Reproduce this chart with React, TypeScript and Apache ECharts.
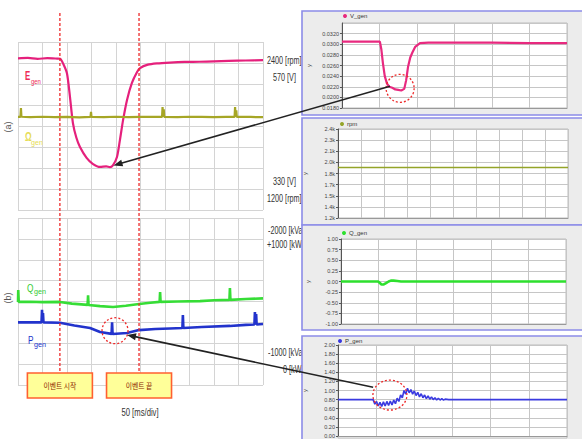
import { useEffect, useRef } from "react";
import * as echarts from "echarts";

// ---------- Left oscilloscope (x: divisions of 50 ms, y: screen divisions) ----------
const eGen: number[][] = [
  [0, 7.22], [0.4, 7.24], [0.8, 7.2], [1.2, 7.23], [1.6, 7.21], [1.72, 7.2], [1.85, 6.95], [2.0, 6.5],
  [2.12, 5.4], [2.24, 4.15], [2.38, 3.45], [2.53, 3.0], [2.8, 2.48], [3.05, 2.2], [3.35, 2.05],
  [3.6, 2.08], [3.75, 2.04], [3.88, 2.14], [4.04, 2.52], [4.16, 3.33], [4.29, 4.29], [4.45, 5.24],
  [4.65, 6.05], [4.86, 6.57], [4.98, 6.76], [5.3, 6.92], [5.67, 6.98], [6.2, 7.02], [6.8, 7.05],
  [7.4, 7.06], [8.0, 7.08], [8.6, 7.1], [9.3, 7.12], [10, 7.14],
];
const omegaGen: number[][] = [
  [0, 4.43], [0.1, 4.43], [0.12, 4.86], [0.14, 4.44], [0.5, 4.42], [1.0, 4.44], [1.5, 4.42], [2.0, 4.43],
  [2.5, 4.41], [2.96, 4.43], [2.98, 4.67], [3.0, 4.43], [3.5, 4.42], [4.0, 4.44], [4.5, 4.42], [5.0, 4.43],
  [5.5, 4.44], [5.88, 4.43], [5.9, 4.9], [5.92, 4.45], [5.95, 4.8], [5.97, 4.43], [6.5, 4.42], [7.0, 4.44],
  [7.5, 4.43], [8.0, 4.42], [8.5, 4.43], [8.84, 4.43], [8.86, 4.9], [8.88, 4.44], [8.91, 4.75], [8.93, 4.43],
  [9.5, 4.43], [10, 4.42],
];
const qGenScope: number[][] = [
  [0, 3.98], [0.01, 4.55], [0.03, 3.98], [0.5, 3.99], [1.0, 3.97], [1.71, 3.98], [2.2, 3.9], [2.84, 3.84],
  [2.86, 4.3], [2.88, 3.83], [3.35, 3.78], [3.88, 3.74], [4.4, 3.8], [4.94, 3.88], [5.4, 3.94], [5.78, 3.98],
  [5.8, 4.45], [5.82, 3.98], [6.5, 4.0], [7.43, 4.02], [8.0, 4.06], [8.63, 4.08], [8.65, 4.65], [8.67, 4.08],
  [9.3, 4.12], [10, 4.15],
];
const pGenScope: number[][] = [
  [0, 3.0], [0.5, 3.0], [0.96, 3.0], [0.98, 3.6], [1.0, 3.0], [1.02, 3.45], [1.04, 3.0], [1.71, 2.98],
  [2.3, 2.85], [2.94, 2.73], [3.35, 2.54], [3.82, 2.45], [3.84, 3.0], [3.86, 2.44], [4.45, 2.49], [4.94, 2.63],
  [5.6, 2.68], [6.2, 2.71], [6.71, 2.73], [6.73, 3.35], [6.75, 2.73], [7.5, 2.78], [8.65, 2.83], [9.3, 2.88],
  [9.65, 2.9], [9.67, 3.5], [9.69, 2.9], [9.72, 3.4], [9.74, 2.9], [10, 2.92],
];
const eventStart = 1.71;
const eventEnd = 4.94;
const eventLabels = ["이벤트 시작", "이벤트 끝"];
const timeBaseLabel = "50 [ms/div]";
const sideLabelTexts = [
  "2400 [rpm]", "570 [V]", "330 [V]", "1200 [rpm]",
  "-2000 [kVar]", "+1000 [kW]", "-1000 [kVar]", "0 [kW]",
];

// ---------- Right simulation panels ----------
const vGen: number[][] = [
  [0, 0.0305], [0.5, 0.0305], [1.01, 0.0305], [1.05, 0.029], [1.09, 0.0265], [1.14, 0.024], [1.2, 0.0226],
  [1.26, 0.022], [1.34, 0.0218], [1.42, 0.0215], [1.5, 0.0214], [1.58, 0.0213], [1.66, 0.0216],
  [1.71, 0.0232], [1.76, 0.0257], [1.82, 0.0275], [1.88, 0.0285], [1.95, 0.0295], [2.08, 0.0302],
  [2.3, 0.0303], [3, 0.0303], [4, 0.0303], [5, 0.0302], [6, 0.0302],
];
const rpm: number[][] = [[0, 1880], [10, 1880]];
const qGen: number[][] = [
  [0, 0], [0.99, 0], [1.03, -0.03], [1.08, -0.07], [1.14, -0.07], [1.2, -0.04], [1.27, 0.0],
  [1.33, 0.02], [1.4, 0.02], [1.5, 0.01], [1.6, 0.0], [6, 0],
];
const pGen: number[][] = [
  [0, 0.8], [0.92, 0.8], [0.965, 0.7], [1.01, 0.76], [1.055, 0.66], [1.1, 0.74], [1.145, 0.65],
  [1.19, 0.75], [1.235, 0.66], [1.28, 0.76], [1.325, 0.67], [1.37, 0.77], [1.415, 0.68], [1.46, 0.79],
  [1.505, 0.71], [1.55, 0.83], [1.595, 0.76], [1.64, 0.9], [1.685, 0.84], [1.73, 1.0], [1.775, 0.92],
  [1.82, 1.05], [1.865, 0.95], [1.91, 1.02], [1.955, 0.92], [2.0, 0.99], [2.045, 0.89], [2.09, 0.96],
  [2.135, 0.86], [2.18, 0.93], [2.225, 0.84], [2.27, 0.9], [2.315, 0.82], [2.36, 0.88], [2.405, 0.81],
  [2.45, 0.86], [2.495, 0.8], [2.54, 0.84], [2.585, 0.79], [2.63, 0.83], [2.675, 0.79], [2.72, 0.82],
  [2.765, 0.79], [2.81, 0.81], [2.9, 0.8], [6, 0.8],
];
const rpmTickLabels = ["1.2k", "1.4k", "1.5k", "1.7k", "1.8k", "2.0k", "2.1k", "2.3k", "2.4k"];
const legendNames = ["V_gen", "rpm", "Q_gen", "P_gen"];

// ---------- layout ----------
const scopeGrids = [
  { left: 18, top: 42, width: 245, height: 168 },
  { left: 18, top: 218, width: 245, height: 167 },
];
const rightGrids = [
  { left: 342, top: 23, width: 225, height: 85 },
  { left: 338, top: 129, width: 230, height: 89 },
  { left: 341, top: 239, width: 225, height: 85 },
  { left: 338, top: 345, width: 229, height: 93 },
];
const panelRects = [
  [302, 11, 300, 104],
  [302, 118, 300, 107],
  [302, 225, 300, 105],
  [302, 336, 300, 110],
];
const sideLabelPos = [
  [267, 60], [273, 77], [273, 181], [267, 198],
  [268, 230], [267, 244], [268, 352], [283, 369],
];
const legendPos = [[343, 13], [340, 121], [342, 230], [338, 338]];

const FONT = "'Liberation Sans', Arial, sans-serif";

export default function App() {
  const ref = useRef<HTMLDivElement>(null);
  useEffect(() => {
    const chart = echarts.init(ref.current!, null, { renderer: "svg" });

    const grids: any[] = [
      ...scopeGrids.map((g) => ({ ...g, containLabel: false })),
      ...rightGrids.map((g) => ({ ...g, containLabel: false })),
    ];

    const scopeX = (i: number) => ({
      type: "value", gridIndex: i, min: 0, max: 10, interval: 1,
      axisLine: { show: false }, axisTick: { show: false }, axisLabel: { show: false },
      splitLine: { show: true, lineStyle: { color: "#d4d4d4", width: 1 } },
    });
    const scopeY = (i: number) => ({
      type: "value", gridIndex: i, min: 0, max: 8, interval: 1,
      axisLine: { show: false }, axisTick: { show: false }, axisLabel: { show: false },
      splitLine: { show: true, lineStyle: { color: "#d4d4d4", width: 1 } },
    });
    const rightX = (i: number, max: number) => ({
      type: "value", gridIndex: i, min: 0, max, interval: 1, z: 3,
      axisLine: { show: true, onZero: false, lineStyle: { color: "#999" } },
      axisTick: { show: false }, axisLabel: { show: false },
      splitLine: { show: true, lineStyle: { color: "#c6c6c6", width: 1 } },
    });
    const rightY = (i: number, min: number, max: number, interval: number, fmt: (v: number) => string, showMax: boolean) => ({
      type: "value", gridIndex: i, min, max, interval, z: 3,
      name: "y", nameLocation: "middle", nameGap: 30,
      nameTextStyle: { fontSize: 6, color: "#444", fontFamily: FONT },
      axisLine: { show: true, onZero: false, lineStyle: { color: "#555" } },
      axisTick: { show: true, length: 2, lineStyle: { color: "#555" } },
      axisLabel: { fontSize: 5.5, color: "#444", margin: 3, formatter: fmt, showMaxLabel: showMax, fontFamily: FONT },
      splitLine: { show: true, lineStyle: { color: "#c6c6c6", width: 1 } },
    });

    const line = (name: string, xi: number, data: number[][], color: string, width: number, z = 2, smooth: any = false) => ({
      type: "line", name, xAxisIndex: xi, yAxisIndex: xi, data, showSymbol: false, smooth, z,
      lineStyle: { color, width }, itemStyle: { color }, silent: true,
    });

    const option: any = {
      animation: false,
      textStyle: { fontFamily: FONT },
      grid: grids,
      xAxis: [scopeX(0), scopeX(1), rightX(2, 6), rightX(3, 10), rightX(4, 6), rightX(5, 6)],
      yAxis: [
        scopeY(0), scopeY(1),
        rightY(2, 0.018, 0.034, 0.002, (v) => v.toFixed(4), false),
        rightY(3, 1200, 2400, 150, (v) => rpmTickLabels[Math.round((v - 1200) / 150)] ?? "", true),
        rightY(4, -1, 1, 0.25, (v) => v.toFixed(2), true),
        rightY(5, 0, 2, 0.2, (v) => v.toFixed(2), true),
      ],
      legend: legendNames.map((n, i) => ({
        data: [n], left: legendPos[i][0], top: legendPos[i][1], z: 5,
        icon: "circle", itemWidth: 4, itemHeight: 4, itemGap: 2, padding: 0,
        selectedMode: false,
        textStyle: { fontSize: 6, color: "#333", fontFamily: FONT, padding: [0, 0, 0, -2] },
      })),
      series: [
        line("E_gen", 0, eGen, "#e5207c", 2.2, 2, 0.25),
        line("Ω_gen", 0, omegaGen, "#a6a626", 2.2),
        line("Q_gen scope", 1, qGenScope, "#36dd36", 2.6),
        line("P_gen scope", 1, pGenScope, "#2233cc", 2.6),
        line("V_gen", 2, vGen, "#e8297f", 2.2, 4),
        line("rpm", 3, rpm, "#94a428", 1.6, 4),
        line("Q_gen", 4, qGen, "#2ee02e", 2.6, 4),
        line("P_gen", 5, pGen, "#3a3ae0", 1.6, 4),
      ],
    };
    chart.setOption(option);

    const px = (g: number, pt: number[]) => chart.convertToPixel({ gridIndex: g } as any, pt) as number[];

    const textEl = (text: string, x: number, y: number, o: any = {}) => ({
      type: "text", x, y, z: o.z ?? 5, scaleX: o.scaleX ?? 1, rotation: o.rotation ?? 0, silent: true,
      style: {
        text, fill: o.fill ?? "#333", fontSize: o.fontSize ?? 11, fontFamily: o.fontFamily ?? FONT,
        fontWeight: o.fontWeight ?? "normal",
        textAlign: o.align ?? "left", align: o.align ?? "left",
        textVerticalAlign: "middle", verticalAlign: "middle",
      },
    });

    const arrow = (tail: number[], tip: number[]) => {
      const dx = tip[0] - tail[0], dy = tip[1] - tail[1];
      const len = Math.hypot(dx, dy);
      const ux = dx / len, uy = dy / len, nx = -uy, ny = ux;
      const L = 9, w = 3.5;
      const bx = tip[0] - ux * L, by = tip[1] - uy * L;
      return [
        { type: "line", z: 10, silent: true, shape: { x1: tail[0], y1: tail[1], x2: bx + ux * 2, y2: by + uy * 2 }, style: { stroke: "#222", lineWidth: 1.6 } },
        { type: "polygon", z: 10, silent: true, shape: { points: [tip, [bx + nx * w, by + ny * w], [bx - nx * w, by - ny * w]] }, style: { fill: "#222" } },
      ];
    };

    const dash = { stroke: "#ee2a2a", lineWidth: 1.3, lineDash: [2, 2], fill: null };
    const xs = px(0, [eventStart, 0])[0];
    const xe = px(0, [eventEnd, 0])[0];

    const c1 = px(1, [3.96, 2.6]);
    const c2 = px(2, [1.55, 0.0217]);
    const c3 = px(5, [1.36, 0.9]);

    const graphic: any[] = [
      ...sideLabelTexts.map((t, i) => textEl(t, sideLabelPos[i][0], sideLabelPos[i][1], { z: 1, scaleX: 0.66, fill: "#333", fontSize: 11 })),
      ...panelRects.map((r) => ({
        type: "rect", z: 1.5, silent: true,
        shape: { x: r[0], y: r[1], width: r[2], height: r[3] },
        style: { fill: "#ececec", stroke: "#8c8ce8", lineWidth: 1.6 },
      })),
      ...rightGrids.map((g) => ({
        type: "rect", z: 1.8, silent: true,
        shape: { x: g.left, y: g.top, width: g.width, height: g.height },
        style: { fill: "#ffffff", stroke: "#bdbdbd", lineWidth: 1 },
      })),
      textEl("E", 25, 75, { fill: "#ee2a55", fontSize: 13, fontWeight: "bold", scaleX: 0.6 }),
      textEl("gen", 31, 81, { fill: "#ee2a55", fontSize: 7, scaleX: 0.85 }),
      textEl("Ω", 25, 137, { fill: "#e6dc55", fontSize: 12, fontWeight: "bold", scaleX: 0.7 }),
      textEl("gen", 31, 142, { fill: "#e6dc55", fontSize: 8, scaleX: 0.9 }),
      textEl("Q", 27, 288, { fill: "#33cc33", fontSize: 11, scaleX: 0.75 }),
      textEl("gen", 34, 291, { fill: "#33cc33", fontSize: 8, scaleX: 0.9 }),
      textEl("P", 28, 340, { fill: "#2233cc", fontSize: 11, scaleX: 0.75 }),
      textEl("gen", 34, 344, { fill: "#2233cc", fontSize: 8, scaleX: 0.9 }),
      textEl("(a)", 8, 127, { fill: "#555", fontSize: 9, align: "center", rotation: Math.PI / 2 }),
      textEl("(b)", 8, 298, { fill: "#555", fontSize: 9, align: "center", rotation: Math.PI / 2 }),
      textEl(timeBaseLabel, 140, 412, { fill: "#333", fontSize: 11, align: "center", scaleX: 0.7 }),
      { type: "line", z: 9, silent: true, shape: { x1: xs, y1: 13, x2: xs, y2: 373 }, style: { stroke: "#ee2a2a", lineWidth: 1.3, lineDash: [3, 2] } },
      { type: "line", z: 9, silent: true, shape: { x1: xe, y1: 13, x2: xe, y2: 373 }, style: { stroke: "#ee2a2a", lineWidth: 1.3, lineDash: [3, 2] } },
      ...[xs, xe].flatMap((x, i) => [
        { type: "rect", z: 10, silent: true, shape: { x: x - 32.5, y: 373, width: 65, height: 25 }, style: { fill: "#ffff99", stroke: "#ff6030", lineWidth: 1.6 } },
        textEl(eventLabels[i], x, 385.5, { z: 11, fill: "#8b1a00", fontSize: 8, align: "center", fontFamily: "'Noto Sans CJK KR', sans-serif", scaleX: 0.85 }),
      ]),
      { type: "circle", z: 10, silent: true, shape: { cx: c1[0], cy: c1[1], r: 13 }, style: dash },
      { type: "circle", z: 10, silent: true, shape: { cx: c2[0], cy: c2[1], r: 14 }, style: dash },
      { type: "ellipse", z: 10, silent: true, shape: { cx: c3[0], cy: c3[1], rx: 17, ry: 15 }, style: dash },
      ...arrow(px(2, [1.28, 0.0221]), px(0, [3.9, 2.12])),
      ...arrow(px(5, [0.92, 1.07]), px(1, [4.45, 2.4])),
    ];

    chart.setOption({ graphic });
    return () => chart.dispose();
  }, []);
  return <div ref={ref} style={{ position: "absolute", left: 0, top: 0, width: 582, height: 439 }} />;
}
